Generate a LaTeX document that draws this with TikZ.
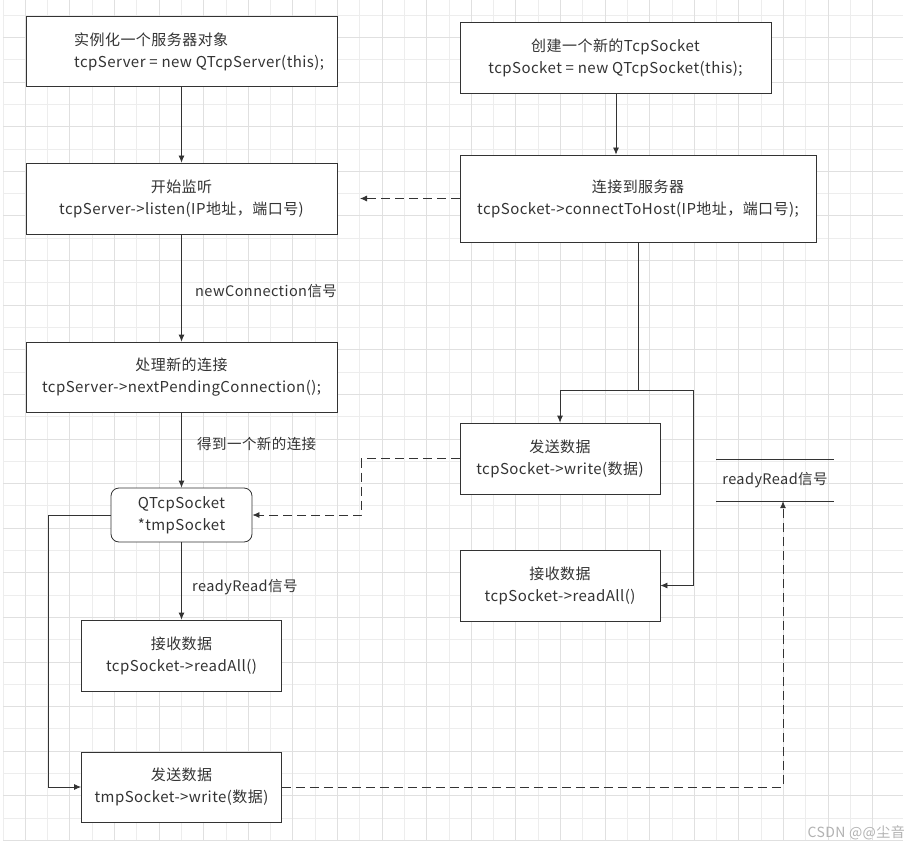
\documentclass[tikz,border=0pt]{standalone}
\usepackage{fontspec}
\setmainfont{Noto Sans CJK SC}[LetterSpace=3]
\usetikzlibrary{arrows.meta}
\definecolor{ink}{HTML}{333333}
\begin{document}
\begin{tikzpicture}[x=1pt,y=-1pt,
  box/.style={draw=ink, line width=0.8pt, fill=white, text=ink, align=center, inner sep=0pt, font=\fontsize{15}{22}\selectfont},
  lbl/.style={text=ink, anchor=west, inner sep=0pt, font=\fontsize{14.5}{18}\selectfont},
  arr/.style={draw=ink, line width=0.8pt, -{Latex[length=7pt,width=6pt]}},
  dashline/.style={dash pattern=on 9pt off 5pt}]
\useasboundingbox[fill=white] (0,0) rectangle (909,850);
%% background grid
\foreach \i in {0,...,39} \draw[black!7] (2.7+22.3*\i,0) -- (2.7+22.3*\i,840);
\foreach \i in {0,...,37} \draw[black!7] (3,15+22.3*\i) -- (903,15+22.3*\i);
\foreach \i in {0,...,19} \draw[black!12] (25+44.6*\i,0) -- (25+44.6*\i,840);
\foreach \i in {0,...,18} \draw[black!12] (3,37.3+44.6*\i) -- (903,37.3+44.6*\i);
%% server side
\node[box, minimum width=311pt, minimum height=70pt] (inst) at (181.5,51) {};
\node[lbl, align=left, font=\fontsize{15}{22}\selectfont] (instT) at (74,52) {实例化一个服务器对象\\tcpServer = new QTcpServer(this);};
\node[box, minimum width=311pt, minimum height=71pt] (listen) at (181.5,198.5) {开始监听\\tcpServer->listen(IP地址，端口号)};
\node[box, minimum width=311pt, minimum height=70pt] (handle) at (181.5,377) {处理新的连接\\tcpServer->nextPendingConnection();};
\node[box, rounded corners=8pt, minimum width=141pt, minimum height=54pt] (tmp) at (181.5,515) {QTcpSocket\\*tmpSocket};
\node[box, minimum width=200pt, minimum height=71pt] (recvL) at (181.5,655.5) {接收数据\\tcpSocket->readAll()};
\node[box, minimum width=200pt, minimum height=70pt] (sendL) at (181.5,787) {发送数据\\tmpSocket->write(数据)};
%% client side
\node[box, minimum width=311pt, minimum height=71pt] (create) at (615.5,57.5) {创建一个新的TcpSocket\\tcpSocket = new QTcpSocket(this);};
\node[box, minimum width=356pt, minimum height=87pt] (connect) at (638,198.5) {连接到服务器\\tcpSocket->connectToHost(IP地址，端口号);};
\node[box, minimum width=200pt, minimum height=71pt] (sendR) at (560,458.5) {发送数据\\tcpSocket->write(数据)};
\node[box, minimum width=200pt, minimum height=71pt] (recvR) at (560,585.5) {接收数据\\tcpSocket->readAll()};
\node[text=ink, inner sep=0pt, minimum width=117pt, minimum height=41pt, font=\fontsize{14.5}{18}\selectfont] (sig) at (775,480.5) {readyRead信号};
\draw[ink, line width=0.8pt] (sig.north west) -- (sig.north east);
\draw[ink, line width=0.8pt] (sig.south west) -- (sig.south east);
%% labels
\node[lbl] (newConn) at (195,291) {newConnection信号};
\node[lbl] (gotConn) at (197,444) {得到一个新的连接};
\node[lbl] (readySig) at (192,587) {readyRead信号};
\node[text=black!30, anchor=east, inner sep=0pt, font=\fontsize{14}{18}\selectfont] (mark) at (905,833) {CSDN @@尘音};
%% connectors
\coordinate (lsnEnd) at (360,198.5);
\coordinate (fork) at (638,390);
\coordinate (forkR) at (693,390);
\draw[arr] (inst) -- (listen);
\draw[arr] (listen) -- (handle);
\draw[arr] (handle) -- (tmp);
\draw[arr] (tmp) -- (recvL);
\draw[arr] (tmp.west) -- ++(-62,0) |- (sendL.west);
\draw[arr] (create.south -| 616,0) -- (connect.north -| 616,0);
\draw[arr, dashline] (connect.west) -- (lsnEnd);
\draw[ink, line width=0.8pt] (connect.south) -- (fork);
\draw[arr] (fork) -| (sendR.north);
\draw[arr] (fork) -- (forkR) |- (recvR.east);
\draw[arr, dashline] (sendR.west) -- ++(-98,0) |- (tmp.east);
\draw[arr, dashline] (sendL.east) -| ([xshift=8pt]sig.south);
\end{tikzpicture}
\end{document}
